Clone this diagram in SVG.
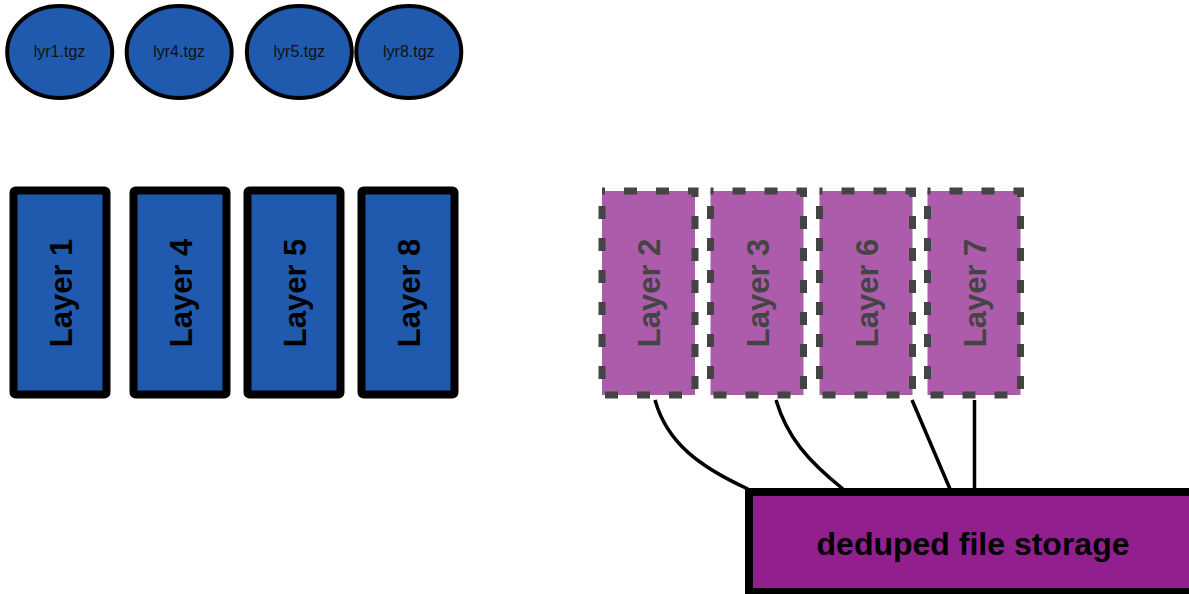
<svg xmlns="http://www.w3.org/2000/svg" width="1189" height="594" viewBox="0 0 1189 594">
  <style>
    .archive { fill: #1f5aae; stroke: #000; stroke-width: 4; }
    .archive-label { font-family: "Liberation Sans", Arial, sans-serif; font-size: 16px; fill: #111; text-anchor: middle; }
    .layer { fill: #1f5aae; stroke: #000; stroke-width: 8; }
    .layer-label { font-family: "Liberation Sans", Arial, sans-serif; font-size: 31px; font-weight: bold; fill: #000; text-anchor: middle; }
    .shared { fill: #ad5cab; stroke: #444; stroke-width: 7; stroke-dasharray: 13 19; stroke-dashoffset: 10; }
    .shared-label { font-family: "Liberation Sans", Arial, sans-serif; font-size: 31px; font-weight: bold; fill: #444; text-anchor: middle; }
    .storage { fill: #911f8e; stroke: #000; stroke-width: 8; }
    .storage-label { font-family: "Liberation Sans", Arial, sans-serif; font-size: 32px; font-weight: bold; fill: #000; text-anchor: middle; }
    .link { fill: none; stroke: #000; stroke-width: 3.5; }
  </style>

  <!-- tarball archives -->
  <g id="lyr1-tgz">
    <ellipse class="archive" cx="59.7" cy="52" rx="52.5" ry="46"/>
    <text class="archive-label" x="59.5" y="57">lyr1.tgz</text>
  </g>
  <g id="lyr4-tgz">
    <ellipse class="archive" cx="179.2" cy="52" rx="52.5" ry="46"/>
    <text class="archive-label" x="179" y="57">lyr4.tgz</text>
  </g>
  <g id="lyr5-tgz">
    <ellipse class="archive" cx="299.3" cy="52" rx="52.5" ry="46"/>
    <text class="archive-label" x="299.3" y="57">lyr5.tgz</text>
  </g>
  <g id="lyr8-tgz">
    <ellipse class="archive" cx="408.8" cy="52" rx="52.5" ry="46"/>
    <text class="archive-label" x="408.8" y="57">lyr8.tgz</text>
  </g>

  <!-- unpacked layers -->
  <g id="layer-1">
    <rect class="layer" x="13.5" y="190.5" width="93" height="204" rx="2"/>
    <text class="layer-label" transform="translate(71.5 293) rotate(-90)">Layer 1</text>
  </g>
  <g id="layer-4">
    <rect class="layer" x="133.5" y="190.5" width="93" height="204" rx="2"/>
    <text class="layer-label" transform="translate(191.5 293) rotate(-90)">Layer 4</text>
  </g>
  <g id="layer-5">
    <rect class="layer" x="247.5" y="190.5" width="93" height="204" rx="2"/>
    <text class="layer-label" transform="translate(305.5 293) rotate(-90)">Layer 5</text>
  </g>
  <g id="layer-8">
    <rect class="layer" x="361.5" y="190.5" width="93" height="204" rx="2"/>
    <text class="layer-label" transform="translate(419.5 293) rotate(-90)">Layer 8</text>
  </g>

  <!-- layers backed by deduplicated storage -->
  <g id="layer-2">
    <rect class="shared" x="602" y="191" width="93" height="204"/>
    <text class="shared-label" transform="translate(660 293) rotate(-90)">Layer 2</text>
  </g>
  <g id="layer-3">
    <rect class="shared" x="710.5" y="191" width="93" height="204"/>
    <text class="shared-label" transform="translate(768.5 293) rotate(-90)">Layer 3</text>
  </g>
  <g id="layer-6">
    <rect class="shared" x="819.5" y="191" width="93" height="204"/>
    <text class="shared-label" transform="translate(877.5 293) rotate(-90)">Layer 6</text>
  </g>
  <g id="layer-7">
    <rect class="shared" x="927.5" y="191" width="93" height="204"/>
    <text class="shared-label" transform="translate(985.5 293) rotate(-90)">Layer 7</text>
  </g>

  <!-- links from shared layers down to storage -->
  <g id="connectors">
    <path class="link" d="M655,400 C667,443 700,467 748,489"/>
    <path class="link" d="M776,400 C787,437 808,461 843,489"/>
    <path class="link" d="M912,400 L950,489"/>
    <path class="link" d="M974.5,400 L974.5,489"/>
  </g>

  <g id="deduped-storage">
    <rect class="storage" x="749" y="492" width="452" height="100"/>
    <text class="storage-label" x="973" y="555">deduped file storage</text>
  </g>
</svg>
